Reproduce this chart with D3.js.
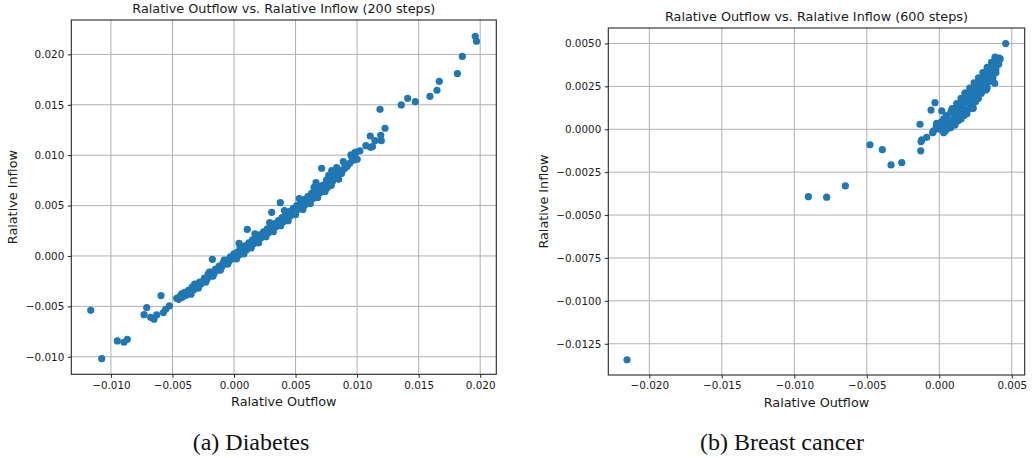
<!DOCTYPE html>
<html>
<head>
<meta charset="utf-8">
<script src="https://d3js.org/d3.v7.min.js"></script>
<style>
    body { margin: 0; background: #fff; }
    svg { display: block; }
</style>
</head>
<body>
<svg id="drawing_region"></svg>
<script>
// Diabetes, 200 steps: [relative outflow, relative inflow]
const diabetes_points = [
    [0.0196,0.0218],[0.0197,0.0213],[0.01855,0.0198],[0.01815,0.0181],[0.01668,0.01733],
    [0.01649,0.01644],[0.01592,0.01584],[0.01473,0.01531],[0.01411,0.01564],[0.01359,0.01498],
    [0.01186,0.01455],[0.01227,0.01267],[0.01107,0.0119],[0.01192,0.01197],[0.01145,0.01144],
    [0.01197,0.01144],[0.01072,0.01094],[0.0111,0.01078],[0.01125,0.01085],[0.00983,0.01025],
    [0.01023,0.01042],[0.00969,0.00985],[0.01001,0.00959],[0.0095,0.01002],[0.00888,0.00936],
    [0.00902,0.00896],[0.00861,0.00836],[0.0082,0.00836],[0.00875,0.0082],[0.00834,0.00876],
    [0.00794,0.00846],[0.00712,0.0087],[0.00753,0.00754],[0.00747,0.00671],[0.00666,0.00727],
    [0.00699,0.00688],[0.00376,0.00529],[0.00306,0.00433],[0.00108,0.00264],[0.00041,0.00126],
    [-0.00176,-0.00033],
    [-0.01164,-0.00539],[-0.01075,-0.01019],[-0.00948,-0.00843],[-0.00894,-0.00856],[-0.00867,-0.00827],
    [-0.00709,-0.00512],[-0.00731,-0.00582],[-0.00677,-0.00609],[-0.0065,-0.00628],[-0.00628,-0.00585],
    [-0.00593,-0.00393],[-0.00574,-0.00562],[-0.00555,-0.00529],[-0.00525,-0.00496],[-0.00466,-0.0042],
    [-0.00425,-0.00377],
    [-0.0045,-0.0043],[-0.0044,-0.0040],[-0.0042,-0.0041],[-0.0040,-0.0036],[-0.0039,-0.0039],
    [-0.0037,-0.0034],[-0.0036,-0.0036],[-0.0034,-0.0031],[-0.0033,-0.0034],[-0.0031,-0.0029],
    [-0.0030,-0.0031],[-0.0028,-0.0026],[-0.0027,-0.0028],[-0.0025,-0.0025],[-0.0024,-0.0022],
    [-0.0022,-0.0023],[-0.0021,-0.0018],[-0.0019,-0.0020],[-0.0018,-0.0016],[-0.0016,-0.0017],
    [-0.0015,-0.0013],[-0.0013,-0.0014],[-0.0012,-0.0010],[-0.0010,-0.0011],[-0.0009,-0.0007],
    [-0.0007,-0.0008],[-0.0006,-0.0004],[-0.0004,-0.0005],[-0.0003,-0.0001],[-0.0001,-0.0003],
    [0.0000,0.0002],[0.0001,-0.0001],[0.0003,0.0004],[0.0004,0.0001],[0.0006,0.0007],
    [0.0007,0.0003],[0.0009,0.0010],[0.0010,0.0006],[0.0012,0.0013],[0.0013,0.0009],
    [0.0015,0.0016],[0.0016,0.0012],[0.0018,0.0019],[0.0019,0.0015],[0.0021,0.0021],
    [0.0022,0.0018],[0.0024,0.0024],[0.0025,0.0020],[0.0027,0.0027],[0.0028,0.0023],
    [0.0030,0.0030],[0.0031,0.0026],[0.0033,0.0032],[0.0034,0.0029],[0.0036,0.0035],
    [0.0037,0.0031],[0.0039,0.0038],[0.0040,0.0034],[0.0042,0.0041],[0.0043,0.0037],
    [0.0045,0.0044],[0.0046,0.0040],[0.0048,0.0047],[0.0049,0.0043],[0.0051,0.0050],
    [0.0052,0.0046],[0.0054,0.0053],[0.0055,0.0048],[0.0057,0.0056],[0.0058,0.0051],
    [0.0060,0.0059],[0.0061,0.0054],[0.0063,0.0062],[0.0064,0.0057],[0.0066,0.0064],
    [0.0067,0.0060],[0.0069,0.0067],[0.0070,0.0063],[0.0072,0.0070],[0.0073,0.0066],
    [0.0075,0.0073],[0.0076,0.0068],[0.0078,0.0076],[0.0080,0.0074],[0.0082,0.0079],
    [0.0084,0.0078],[0.0086,0.0082],[0.0088,0.0085],[0.0090,0.0087],[0.0092,0.0089],
    [0.0094,0.0092],[0.0096,0.0097],[0.0099,0.0103],[0.0097,0.0095],
    [-0.0035,-0.0038],[-0.0029,-0.0032],[-0.0023,-0.0026],[-0.0017,-0.0020],[-0.0011,-0.0014],
    [-0.0005,-0.0008],[0.0002,-0.0003],[0.0008,0.0002],[0.0014,0.0008],[0.0020,0.0013],
    [0.0026,0.0019],[0.0032,0.0024],[0.0038,0.0030],[0.0044,0.0035],[0.0050,0.0041],
    [0.0056,0.0046],[0.0062,0.0052],[0.0068,0.0058],[0.0074,0.0064],[0.0079,0.0070],
    [0.0085,0.0076],
    [-0.0032,-0.0028],[-0.0020,-0.0016],[-0.0008,-0.0004],[0.0005,0.0009],[0.0017,0.0022],
    [0.0029,0.0033],[0.0041,0.0045],[0.0053,0.0057],[0.0065,0.0068],[0.0077,0.0080]
];

// Breast cancer, 600 steps: [relative outflow, relative inflow]
const cancer_points = [
    [0.00458,0.00499],[0.00382,0.00268],[0.00396,0.00414],[0.00414,0.00414],[0.00384,0.0042],
    [0.00322,0.00229],[0.00177,0.0021],[0.00234,0.00122],[0.0023,0.00128],[-0.0003,0.00155],
    [-0.00057,0.00112],[0.00017,0.00107],[-0.00133,0.00029],[-0.00128,-0.00126],[-0.00121,-0.00062],
    [-0.00126,-0.00072],[-0.00087,-0.00047],[-0.00046,-0.0002],[-0.00018,0.00035],[0.00044,-0.00008],
    [0.00108,0.00025],[0.00085,0.00112],[-0.00478,-0.00091],[-0.00393,-0.00119],[-0.00333,-0.00208],
    [-0.00259,-0.00195],[-0.00903,-0.00393],[-0.00777,-0.00396],[-0.00648,-0.0033],[-0.02154,-0.01343],
    [-0.0004,-0.0001],[-0.0002,0.0002],[0.0000,0.0000],[0.0001,0.0004],[0.0002,0.0001],
    [0.0003,0.0006],[0.0004,0.0003],[0.0005,0.0008],[0.0006,0.0002],[0.0007,0.0005],
    [0.0008,0.0010],[0.0009,0.0004],[0.0010,0.0008],[0.0011,0.0012],[0.0012,0.0006],
    [0.0013,0.0010],[0.0014,0.0015],[0.0015,0.0009],[0.0016,0.0013],[0.0017,0.0017],
    [0.0018,0.0011],[0.0019,0.0016],[0.0020,0.0020],[0.0021,0.0014],[0.0022,0.0018],
    [0.0023,0.0023],[0.0024,0.0017],[0.0025,0.0021],[0.0026,0.0026],[0.0027,0.0020],
    [0.0028,0.0024],[0.0029,0.0029],[0.0030,0.0023],[0.0031,0.0027],[0.0032,0.0032],
    [0.0033,0.0027],[0.0034,0.0030],[0.0035,0.0035],[0.0036,0.0031],[0.0037,0.0034],
    [0.0038,0.0038],[0.0039,0.0035],[0.0040,0.0040],[0.0041,0.0038],[0.0042,0.0041],
    [0.0005,0.0000],[0.0008,0.0001],[0.0011,0.0004],[0.0013,0.0005],[0.0015,0.0006],
    [0.0017,0.0008],[0.0019,0.0009],[0.0021,0.0012],[0.0023,0.0013],[0.0025,0.0016],
    [0.0027,0.0018],[0.0029,0.0021],[0.0031,0.0023],[0.0033,0.0024],[0.0035,0.0028],
    [0.0037,0.0030],[0.0039,0.0033],
    [0.0009,0.0012],[0.0012,0.0015],[0.0015,0.0018],[0.0018,0.0021],[0.0021,0.0024],
    [0.0024,0.0027],[0.0027,0.0030],[0.0030,0.0033],[0.0033,0.0036],[0.0036,0.0039],
    [0.0039,0.0041],
    [0.0013,0.0012],[0.0016,0.0015],[0.0019,0.0018],[0.0022,0.0021],[0.0025,0.0024],
    [0.0028,0.0027],[0.0031,0.0030],[0.0034,0.0033],[0.0037,0.0036],
    [0.0002,0.0004],[0.0004,0.0006],[-0.0001,0.0003],[0.0003,-0.0002]
];

const diabetes_xticks = [-0.010, -0.005, 0.000, 0.005, 0.010, 0.015, 0.020];
const diabetes_yticks = [-0.010, -0.005, 0.000, 0.005, 0.010, 0.015, 0.020];
const cancer_xticks = [-0.020, -0.015, -0.010, -0.005, 0.000, 0.005];
const cancer_yticks = [-0.0125, -0.0100, -0.0075, -0.0050, -0.0025, 0.0000, 0.0025, 0.0050];

const svg = d3.select('#drawing_region')
    .attr('width', 1034)
    .attr('height', 458);

class ScatterPlot {

    constructor( config, data ) {
        this.config = config;
        this.data = data;
        this.init();
    }

    init() {
        let self = this;
        let c = self.config;

        self.chart = svg.append('g')
            .attr('transform', `translate(${c.left}, ${c.top})`);

        self.xscale = d3.scaleLinear()
            .domain(c.xdomain)
            .range([0, c.width]);

        self.yscale = d3.scaleLinear()
            .domain(c.ydomain)
            .range([c.height, 0]);

        self.xaxis = d3.axisBottom( self.xscale )
            .tickValues(c.xticks)
            .tickFormat(d3.format(c.format))
            .tickSizeInner(3.5)
            .tickSizeOuter(0)
            .tickPadding(3.5);

        self.yaxis = d3.axisLeft( self.yscale )
            .tickValues(c.yticks)
            .tickFormat(d3.format(c.yformat))
            .tickSizeInner(3.5)
            .tickSizeOuter(0)
            .tickPadding(3.5);

        // grid
        self.grid = self.chart.append('g');

        self.points_group = self.chart.append('g');

        self.xaxis_group = self.chart.append('g')
            .attr('transform', `translate(0, ${c.height})`);
        self.yaxis_group = self.chart.append('g');

        self.chart.append('rect')
            .attr('width', c.width)
            .attr('height', c.height)
            .attr('fill', 'none')
            .attr('stroke', '#262626')
            .attr('stroke-width', 1.1);

        self.chart.append('text')
            .attr('x', c.width / 2)
            .attr('y', -7.3)
            .attr('text-anchor', 'middle')
            .style('font-family', 'DejaVu Sans')
            .style('font-size', '12.8px')
            .attr('fill', '#1a1a1a')
            .text(c.title);

        self.chart.append('text')
            .attr('x', c.width / 2)
            .attr('y', c.height + 32)
            .attr('text-anchor', 'middle')
            .style('font-family', 'DejaVu Sans')
            .style('font-size', '12.8px')
            .attr('fill', '#1a1a1a')
            .text('Ralative Outflow');

        self.chart.append('text')
            .attr('transform', 'rotate(-90)')
            .attr('x', -c.height / 2)
            .attr('y', -c.ylabel_offset)
            .attr('text-anchor', 'middle')
            .style('font-family', 'DejaVu Sans')
            .style('font-size', '12.8px')
            .attr('fill', '#1a1a1a')
            .text('Ralative Inflow');

        svg.append('text')
            .attr('x', c.caption_x)
            .attr('y', 450)
            .attr('text-anchor', 'middle')
            .style('font-family', 'Liberation Serif')
            .style('font-size', '24px')
            .attr('fill', '#111')
            .text(c.caption);
    }

    update() {
        let self = this;
        let c = self.config;

        self.grid.selectAll('.vgrid').data(c.xticks)
            .join('line')
            .attr('class', 'vgrid')
            .attr('x1', d => self.xscale(d))
            .attr('x2', d => self.xscale(d))
            .attr('y1', 0)
            .attr('y2', c.height)
            .attr('stroke', '#b0b0b0')
            .attr('stroke-width', 1);

        self.grid.selectAll('.hgrid').data(c.yticks)
            .join('line')
            .attr('class', 'hgrid')
            .attr('x1', 0)
            .attr('x2', c.width)
            .attr('y1', d => self.yscale(d))
            .attr('y2', d => self.yscale(d))
            .attr('stroke', '#b0b0b0')
            .attr('stroke-width', 1);

        self.points_group.selectAll('circle').data(self.data)
            .join('circle')
            .attr('cx', d => self.xscale(d[0]))
            .attr('cy', d => self.yscale(d[1]))
            .attr('r', 3.6)
            .attr('fill', '#1f77b4');

        self.render();
    }

    render() {
        let self = this;

        self.xaxis_group.call( self.xaxis );
        self.yaxis_group.call( self.yaxis );

        [self.xaxis_group, self.yaxis_group].forEach( g => {
            g.select('.domain').remove();
            g.selectAll('line').attr('stroke', '#262626');
            g.selectAll('text')
                .style('font-family', 'DejaVu Sans')
                .style('font-size', '10.4px')
                .attr('fill', '#1a1a1a');
        });
    }
}

const left_plot = new ScatterPlot({
    left: 71.3, top: 20, width: 425, height: 354.3,
    xdomain: [-0.01322, 0.02131], ydomain: [-0.01174, 0.02341],
    xticks: diabetes_xticks, yticks: diabetes_yticks,
    format: '.3f', yformat: '.3f',
    title: 'Ralative Outflow vs. Ralative Inflow (200 steps)',
    ylabel_offset: 54.3,
    caption: '(a) Diabetes', caption_x: 251
}, diabetes_points);
left_plot.update();

const right_plot = new ScatterPlot({
    left: 608.3, top: 28, width: 416.4, height: 347,
    xdomain: [-0.02283, 0.00589], ydomain: [-0.01432, 0.0059],
    xticks: cancer_xticks, yticks: cancer_yticks,
    format: '.3f', yformat: '.4f',
    title: 'Ralative Outflow vs. Ralative Inflow (600 steps)',
    ylabel_offset: 60.3,
    caption: '(b) Breast cancer', caption_x: 782
}, cancer_points);
right_plot.update();
</script>
</body>
</html>
